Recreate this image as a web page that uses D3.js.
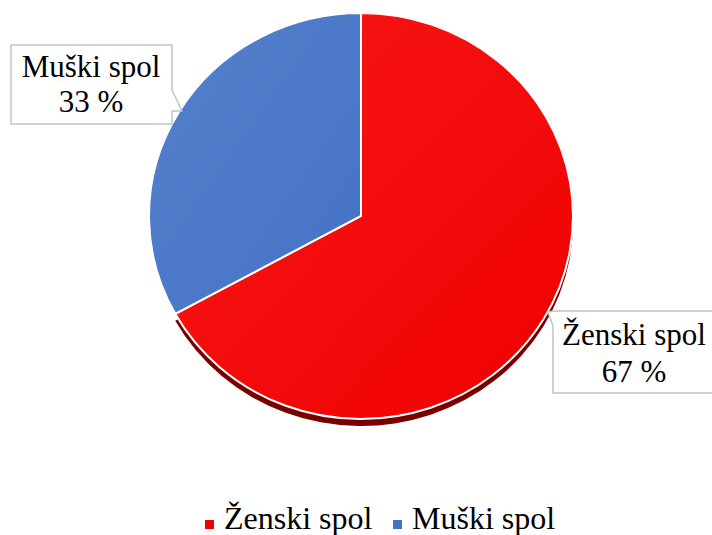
<!DOCTYPE html>
<html>
<head>
<meta charset="utf-8">
<script src="https://cdn.jsdelivr.net/npm/d3@7"></script>
<style>
  body { margin: 0; background: #fff; }
</style>
</head>
<body>
<div id="container"></div>
<script>
const categories = ["Ženski spol", "Muški spol"],
    values = [67, 33],
    labels = ["Ženski spol", "Muški spol"],
    percentLabels = ["67 %", "33 %"];

const colors = ["#f00000", "#4472c4"],
    lightColors = ["#f81818", "#5581cc"],
    shadowColors = ["#7a0000", "none"];

const fontSerif = "'Liberation Serif', 'Times New Roman', Times, 'DejaVu Serif', serif";

const widthSVG = 712,
    heightSVG = 535,
    cx = 361,
    cy = 216,
    rx = 212,
    ry = 203;

const svg = d3.select('#container')
    .append('svg')
    .attr('width', widthSVG)
    .attr('height', heightSVG);

const defs = svg.append('defs');
categories.forEach((c, i) => {
    const g = defs.append('linearGradient')
        .attr('id', 'grad' + i)
        .attr('x1', '0%').attr('y1', '0%')
        .attr('x2', '100%').attr('y2', '100%');
    g.append('stop').attr('offset', '0%').attr('stop-color', lightColors[i]);
    g.append('stop').attr('offset', '100%').attr('stop-color', colors[i]);
});

const pie = d3.pie().sort(null).value(d => d)(values);
const arc = d3.arc().innerRadius(0).outerRadius(rx);

// shadow / bevel under the disk (only visible under the red part)
const shadow = svg.append('g')
    .attr('transform', `translate(${cx},${cy + 7}) scale(1,${ry / rx})`);
shadow.selectAll('path')
    .data(pie)
    .enter()
    .append('path')
    .attr('d', arc)
    .attr('fill', (d, i) => shadowColors[i]);

const chart = svg.append('g')
    .attr('transform', `translate(${cx},${cy}) scale(1,${ry / rx})`);

chart.selectAll('path')
    .data(pie)
    .enter()
    .append('path')
    .attr('d', arc)
    .attr('fill', (d, i) => `url(#grad${i})`)
    .attr('stroke', '#fff')
    .attr('stroke-width', 2)
    .attr('vector-effect', 'non-scaling-stroke');

// callouts
const callouts = [
    { i: 1, path: "M11,45 L172,45 L172,90 L182,111 L172,111 L172,124 L11,124 Z", x: 91, y1: 77, y2: 112 },
    { i: 0, path: "M553,311 L718,311 L718,393 L553,393 L553,326 L548,312 Z", x: 634, y1: 345, y2: 382 }
];

const co = svg.append('g').selectAll('g')
    .data(callouts)
    .enter()
    .append('g');
co.append('path')
    .attr('d', d => d.path)
    .attr('fill', '#fff')
    .attr('stroke', '#c4c4c4')
    .attr('stroke-width', 1.5);
co.append('text')
    .attr('x', d => d.x)
    .attr('y', d => d.y1)
    .attr('text-anchor', 'middle')
    .attr('font-family', fontSerif)
    .attr('font-size', 31)
    .text(d => labels[d.i]);
co.append('text')
    .attr('x', d => d.x)
    .attr('y', d => d.y2)
    .attr('text-anchor', 'middle')
    .attr('font-family', fontSerif)
    .attr('font-size', 31)
    .text(d => percentLabels[d.i]);

// legend
const legendX = [205, 393];
const legend = svg.append('g').selectAll('g')
    .data(categories)
    .enter()
    .append('g')
    .attr('transform', (d, i) => `translate(${legendX[i]},0)`);
legend.append('rect')
    .attr('x', 0)
    .attr('y', 520)
    .attr('width', 9)
    .attr('height', 9)
    .attr('fill', (d, i) => colors[i]);
legend.append('text')
    .attr('x', 19)
    .attr('y', 529)
    .attr('font-family', fontSerif)
    .attr('font-size', 32)
    .text(d => d);
</script>
</body>
</html>
